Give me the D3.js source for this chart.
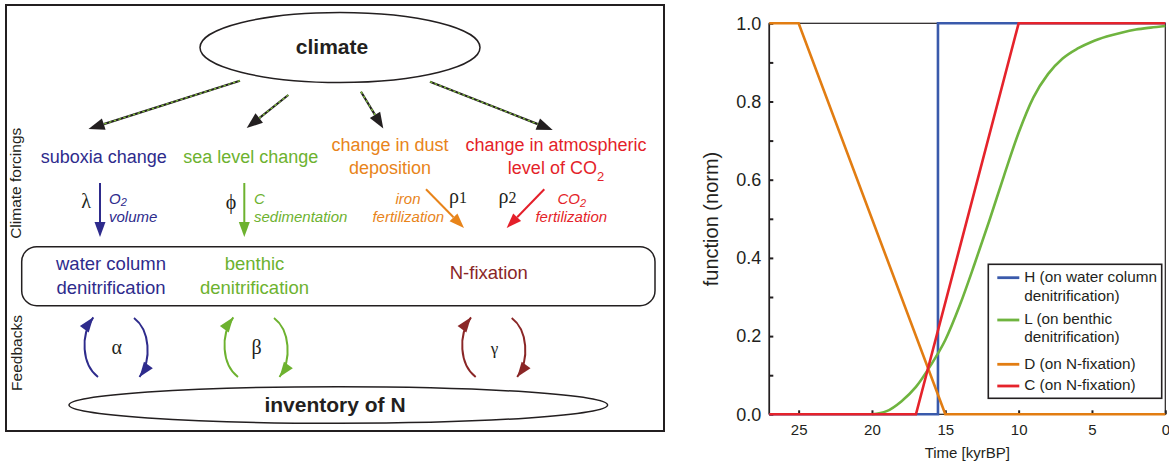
<!DOCTYPE html>
<html>
<head>
<meta charset="utf-8">
<script src="https://cdn.jsdelivr.net/npm/d3@7/dist/d3.min.js"></script>
<style>
  html, body { margin: 0; padding: 0; background: #fff; }
  svg { display: block; font-family: "Liberation Sans", Arial, Helvetica, sans-serif; }
</style>
</head>
<body>
<svg id="fig" width="1169" height="466"></svg>
<script>
// ---------------- DATA (right panel) ----------------
const seriesKeys = ["H", "L", "D", "C"];
const legendLabels = [
  ["H (on water column", "denitrification)"],
  ["L (on benthic", "denitrification)"],
  ["D (on N-fixation)"],
  ["C (on N-fixation)"]
];
const hTime  = [27, 15.5, 15.5, 0];
const hValue = [0, 0, 1, 1];
const lTime  = [20, 19, 18, 17, 16, 15, 14, 13, 12, 11, 10, 9, 8, 7, 6, 5, 4, 3, 2, 1, 0];
const lValue = [0, 0.008, 0.033, 0.07, 0.125, 0.19, 0.28, 0.385, 0.495, 0.61, 0.72, 0.81, 0.87, 0.91, 0.935, 0.953, 0.966, 0.976, 0.984, 0.989, 0.993];
const dTime  = [27, 25, 15, 0];
const dValue = [1, 1, 0, 0];
const cTime  = [27, 17, 10, 0];
const cValue = [0, 0, 1, 1];
const xTickValues = [25, 20, 15, 10, 5, 0];
const yTickValues = [0, 0.2, 0.4, 0.6, 0.8, 1.0];
const yMinorTicks = [0.1, 0.3, 0.5, 0.7, 0.9];
const xAxisTitle = "Time [kyrBP]";
const yAxisTitle = "function (norm)";

// ---------------- DATA (left panel texts) ----------------
const forcingLabels = ["suboxia change", "sea level change", "change in dust|deposition", "change in atmospheric|level of CO"];
const processLabels = ["water column|denitrification", "benthic|denitrification", "N-fixation"];
const feedbackSymbols = ["α", "β", "γ"];

const svg = d3.select("#fig");
const ink = "#231f20";
const colBlue = "#2e2b8c", colGreen = "#6db22f", colOrange = "#e8841a", colRed = "#e41f2a", colBrown = "#8a2626";
const serif = '"Liberation Serif", "DejaVu Serif", Times, serif';
const sans = '"Liberation Sans", Arial, Helvetica, sans-serif';

function arrowHead(g, x1, y1, x2, y2, len, hw, color) {
  const dx = x2 - x1, dy = y2 - y1, L = Math.hypot(dx, dy);
  const ux = dx / L, uy = dy / L, px = -uy, py = ux;
  const bx = x2 - ux * len, by = y2 - uy * len;
  g.append("path")
    .attr("d", `M${x2},${y2}L${bx + px * hw},${by + py * hw}L${bx - px * hw},${by - py * hw}Z`)
    .attr("fill", color);
  return [bx, by];
}

// ================= LEFT PANEL =================
const left = svg.append("g");
left.append("rect").attr("x", 6).attr("y", 5).attr("width", 658).attr("height", 426)
  .attr("fill", "none").attr("stroke", ink).attr("stroke-width", 2);

// climate ellipse
left.append("ellipse").attr("cx", 340).attr("cy", 47.5).attr("rx", 140).attr("ry", 35)
  .attr("fill", "none").attr("stroke", ink).attr("stroke-width", 1.5);
left.append("text").attr("x", 332).attr("y", 54).attr("text-anchor", "middle")
  .attr("font-size", 21).attr("font-weight", "bold").attr("fill", ink).text("climate");

// dashed arrows climate -> forcings
const dashArrows = [
  [240, 80.7, 88.5, 129],
  [288.3, 95, 246.7, 128],
  [361, 91.7, 383.3, 128.5],
  [430, 81.7, 552.7, 130]
];
dashArrows.forEach(a => {
  const [bx, by] = arrowHead(left, a[0], a[1], a[2], a[3], 16, 6, ink);
  left.append("line").attr("x1", a[0]).attr("y1", a[1]).attr("x2", bx).attr("y2", by)
    .attr("stroke", ink).attr("stroke-width", 2.2);
  left.append("line").attr("x1", a[0]).attr("y1", a[1]).attr("x2", bx).attr("y2", by)
    .attr("stroke", "#7fbf3a").attr("stroke-width", 1.3).attr("stroke-dasharray", "2.5,2.5");
});

// forcing labels
const forcingPos = [[103.8, 163, colBlue], [250.8, 163, colGreen], [390, 151, colOrange], [556, 151, colRed]];
forcingLabels.forEach((lab, i) => {
  const lines = lab.split("|");
  const [x, y, c] = forcingPos[i];
  lines.forEach((ln, j) => {
    const t = left.append("text").attr("x", x).attr("y", y + j * 23).attr("text-anchor", "middle")
      .attr("font-size", 18).attr("fill", c);
    t.append("tspan").text(ln);
    if (i === 3 && j === 1) {
      t.append("tspan").attr("font-size", 13).attr("dy", 7).text("2");
    }
  });
});

// parameter arrows
const paramArrows = [
  [100, 183, 100, 237, colBlue],
  [244.3, 183, 244.3, 237, colGreen],
  [426, 189.3, 464, 228, colOrange],
  [544.3, 189.3, 506.7, 228, colRed]
];
paramArrows.forEach(a => {
  const [bx, by] = arrowHead(left, a[0], a[1], a[2], a[3], 15, 5.5, a[4]);
  left.append("line").attr("x1", a[0]).attr("y1", a[1]).attr("x2", bx).attr("y2", by)
    .attr("stroke", a[4]).attr("stroke-width", 2);
});

// greek parameter symbols
function greek(x, y, s, sub, size) {
  const t = left.append("text").attr("x", x).attr("y", y).attr("text-anchor", "middle")
    .style("font-family", serif).attr("font-size", size || 20).attr("fill", ink);
  t.append("tspan").text(s);
  if (sub) t.append("tspan").attr("font-size", 16).text(sub);
}
greek(86, 208, "λ");
greek(231, 209, "ϕ");
greek(458, 203, "ρ", "1");
greek(507.5, 203, "ρ", "2");

// italic annotations
function italic(x, y, anchor, color, parts) {
  const t = left.append("text").attr("x", x).attr("y", y).attr("text-anchor", anchor)
    .attr("font-size", 15).attr("font-style", "italic").attr("fill", color);
  parts.forEach(p => {
    const s = t.append("tspan").text(p[0]);
    if (p[1]) s.attr("font-size", 11).attr("dy", p[1]);
  });
}
italic(109, 204, "start", colBlue, [["O"], ["2", 2]]);
italic(109, 222, "start", colBlue, [["volume"]]);
italic(254, 204, "start", colGreen, [["C"]]);
italic(254, 222, "start", colGreen, [["sedimentation"]]);
italic(408, 204, "middle", colOrange, [["iron"]]);
italic(408.3, 222, "middle", colOrange, [["fertilization"]]);
italic(571.7, 204, "middle", colRed, [["CO"], ["2", 3]]);
italic(571.3, 222, "middle", colRed, [["fertilization"]]);

// rounded process box
left.append("rect").attr("x", 21.7).attr("y", 246.7).attr("width", 633.3).attr("height", 59)
  .attr("rx", 15).attr("ry", 15).attr("fill", "none").attr("stroke", ink).attr("stroke-width", 1.5);
const procPos = [[111, 270, colBlue], [254.5, 270, colGreen], [488.8, 279.3, colBrown]];
processLabels.forEach((lab, i) => {
  const [x, y, c] = procPos[i];
  lab.split("|").forEach((ln, j) => {
    left.append("text").attr("x", x).attr("y", y + j * 24).attr("text-anchor", "middle")
      .attr("font-size", 18.5).attr("fill", c).text(ln);
  });
});

// feedback loops
const loopOffsets = [0, 140, 377.7];
const loopColors = [colBlue, colGreen, colBrown];
loopOffsets.forEach((o, i) => {
  const c = loopColors[i];
  const L = [[98 + o, 377], [82 + o, 365], [80 + o, 335], [93.3 + o, 317.3]];
  const R = [[134 + o, 318], [150 + o, 330], [152 + o, 360], [139.5 + o, 377]];
  [L, R].forEach(p => {
    left.append("path")
      .attr("d", `M${p[0]}C${p[1]} ${p[2]} ${p[3]}`)
      .attr("fill", "none").attr("stroke", c).attr("stroke-width", 2);
    arrowHead(left, p[2][0], p[2][1], p[3][0], p[3][1], 15, 5.5, c);
  });
  left.append("text").attr("x", 116.7 + o).attr("y", 354).attr("text-anchor", "middle")
    .style("font-family", serif).attr("font-size", i === 2 ? 17 : 20).attr("fill", ink)
    .text(feedbackSymbols[i]);
});

// inventory ellipse
left.append("ellipse").attr("cx", 338.3).attr("cy", 405).attr("rx", 269.3).attr("ry", 18.3)
  .attr("fill", "none").attr("stroke", ink).attr("stroke-width", 1.5);
left.append("text").attr("x", 335).attr("y", 412).attr("text-anchor", "middle")
  .attr("font-size", 21).attr("font-weight", "bold").attr("fill", ink).text("inventory of N");

// side labels
left.append("text").attr("transform", "translate(21,183.3) rotate(-90)").attr("text-anchor", "middle")
  .attr("font-size", 15.5).attr("fill", ink).text("Climate forcings");
left.append("text").attr("transform", "translate(22,353) rotate(-90)").attr("text-anchor", "middle")
  .attr("font-size", 15.5).attr("fill", ink).text("Feedbacks");

// ================= RIGHT PANEL (chart) =================
const x = d3.scaleLinear().domain([27, 0]).range([769.3, 1165.3]);
const y = d3.scaleLinear().domain([0, 1]).range([414.3, 23.3]);
const chart = svg.append("g");

chart.append("rect").attr("x", x(27)).attr("y", y(1)).attr("width", x(0) - x(27)).attr("height", y(0) - y(1))
  .attr("fill", "none").attr("stroke", ink).attr("stroke-width", 1.2);

const yAx = chart.append("g").attr("transform", `translate(${x(27)},0)`)
  .call(d3.axisLeft(y).tickValues(yTickValues).tickFormat(d3.format(".1f")).tickSize(-4).tickPadding(8));
const yMin = chart.append("g").attr("transform", `translate(${x(27)},0)`)
  .call(d3.axisLeft(y).tickValues(yMinorTicks).tickFormat("").tickSize(-4));
const xAx = chart.append("g").attr("transform", `translate(0,${y(0)})`)
  .call(d3.axisBottom(x).tickValues(xTickValues).tickSize(-4).tickPadding(10));
[yAx, yMin, xAx].forEach(g => {
  g.attr("font-family", null);
  g.select(".domain").remove();
  g.selectAll(".tick line").attr("stroke", ink).attr("stroke-width", 2);
});
yAx.selectAll(".tick text").attr("font-size", 18).attr("fill", ink).style("font-family", sans);
xAx.selectAll(".tick text").attr("font-size", 15).attr("fill", ink).style("font-family", sans);
chart.append("line").attr("x1", x(27)).attr("x2", x(27)).attr("y1", y(1)).attr("y2", y(0))
  .attr("stroke", ink).attr("stroke-width", 1.6);

chart.append("text").attr("x", (x(27) + x(0)) / 2).attr("y", 458.3).attr("text-anchor", "middle")
  .attr("font-size", 15).attr("fill", ink).text(xAxisTitle);
chart.append("text").attr("transform", `translate(718,219) rotate(-90)`).attr("text-anchor", "middle")
  .attr("font-size", 20).attr("fill", ink).text(yAxisTitle);

const seriesData = {
  H: hTime.map((t, i) => [t, hValue[i]]),
  L: lTime.map((t, i) => [t, lValue[i]]),
  D: dTime.map((t, i) => [t, dValue[i]]),
  C: cTime.map((t, i) => [t, cValue[i]])
};
const seriesColor = { H: "#3a5aab", L: "#6fb43f", D: "#e27d12", C: "#e5232b" };
seriesKeys.forEach(k => {
  const line = d3.line().x(d => x(d[0])).y(d => y(d[1]))
    .curve(k === "L" ? d3.curveMonotoneX : d3.curveLinear);
  chart.append("path").datum(seriesData[k]).attr("d", line)
    .attr("fill", "none").attr("stroke", seriesColor[k]).attr("stroke-width", 2.6)
    .attr("stroke-linejoin", "miter");
});

// legend
const lg = chart.append("g");
lg.append("rect").attr("x", 988.3).attr("y", 264.3).attr("width", 173.4).attr("height", 134)
  .attr("fill", "#fff").attr("stroke", ink).attr("stroke-width", 1.6);
const legendLineY = [277.7, 320, 364.3, 386];
const legendTextY = [[281.7, 300.7], [323.5, 342], [368.5], [390]];
seriesKeys.forEach((k, i) => {
  lg.append("line").attr("x1", 997.3).attr("x2", 1019.3).attr("y1", legendLineY[i]).attr("y2", legendLineY[i])
    .attr("stroke", seriesColor[k]).attr("stroke-width", 2.8);
  legendLabels[i].forEach((ln, j) => {
    lg.append("text").attr("x", 1024.3).attr("y", legendTextY[i][j])
      .attr("font-size", 15.3).attr("fill", ink).text(ln);
  });
});
</script>
</body>
</html>
